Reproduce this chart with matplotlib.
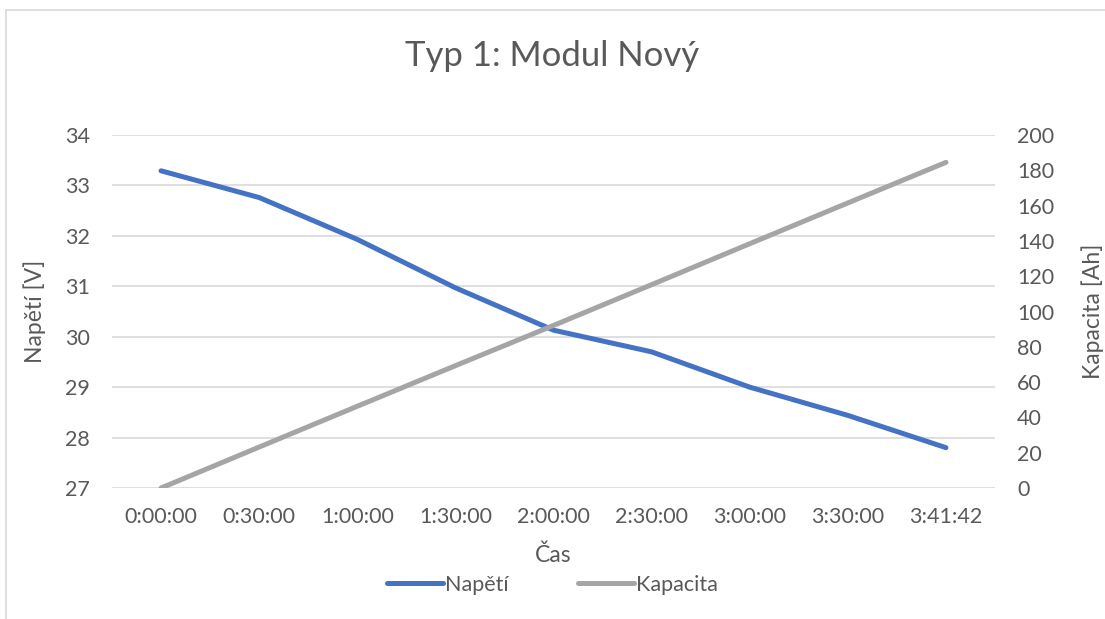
import matplotlib.pyplot as plt
from matplotlib.lines import Line2D

plt.rcParams['font.family'] = ['Lato', 'DejaVu Sans']

cas = ["0:00:00", "0:30:00", "1:00:00", "1:30:00", "2:00:00",
       "2:30:00", "3:00:00", "3:30:00", "3:41:42"]
napeti = [33.29, 32.76, 31.93, 30.97, 30.13, 29.70, 29.00, 28.44, 27.80]
kapacita = [0.0, 23.2, 46.3, 69.3, 92.1, 115.2, 138.4, 161.5, 184.5]

text_col = '#595959'
blue = '#4472C4'
gray = '#A5A5A5'

fig = plt.figure(figsize=(11.05, 6.19), dpi=100)
ax = fig.add_axes([112 / 1105, 1 - 488 / 619, (995 - 112) / 1105, (488 - 135) / 619])
ax2 = ax.twinx()

x = list(range(len(cas)))
ax.plot(x, napeti, color=blue, linewidth=3.6, solid_capstyle='round', zorder=3)
ax2.plot(x, kapacita, color=gray, linewidth=3.6, solid_capstyle='round', zorder=3)

ax.set_xlim(-0.5, len(cas) - 0.5)
ax.set_ylim(27, 34)
ax2.set_ylim(0, 200)
ax.set_yticks(range(27, 35))
ax2.set_yticks(range(0, 201, 20))
ax.set_xticks(x)
ax.set_xticklabels(cas)

ax.grid(axis='y', color='#D9D9D9', linewidth=1.2)
ax.set_axisbelow(True)
for a in (ax, ax2):
    for s in a.spines.values():
        s.set_visible(False)
    a.tick_params(length=0, labelsize=15.5, colors=text_col)
ax.tick_params(axis='x', pad=14)
ax.tick_params(axis='y', pad=16)
ax2.tick_params(axis='y', pad=16)

# label anchors: left label by its right edge, right label by its left edge
ax.set_ylabel('Napětí [V]', fontsize=16.5, color=text_col)
ax.yaxis.set_label_coords((46 - 112) / 883, 0.5)
ax2.set_ylabel('Kapacita [Ah]', fontsize=16.5, color=text_col)
ax2.yaxis.set_label_coords((1081 - 112) / 883, 0.5)
ax.set_xlabel('Čas', fontsize=16.5, color=text_col, labelpad=12)

fig.suptitle('Typ 1: Modul Nový', fontsize=25, color=text_col, y=1 - 56 / 619, va='center')

handles = [Line2D([], [], color=blue, linewidth=3.6, solid_capstyle='round'),
           Line2D([], [], color=gray, linewidth=3.6, solid_capstyle='round')]
fig.legend(handles, ['Napětí', 'Kapacita'], loc='center', ncol=2,
           bbox_to_anchor=(0.5, 1 - 585 / 619), frameon=False, fontsize=15.5,
           labelcolor=text_col, handlelength=2.6, handletextpad=0.1, columnspacing=3.2)

# chart border (cropped on right/bottom)
fig.add_artist(Line2D([6 / 1105, 6 / 1105], [0, 1 - 10 / 619], color='#D9D9D9', linewidth=1.2))
fig.add_artist(Line2D([6 / 1105, 1], [1 - 10 / 619, 1 - 10 / 619], color='#D9D9D9', linewidth=1.2))

fig.savefig('out.png', dpi=100)
